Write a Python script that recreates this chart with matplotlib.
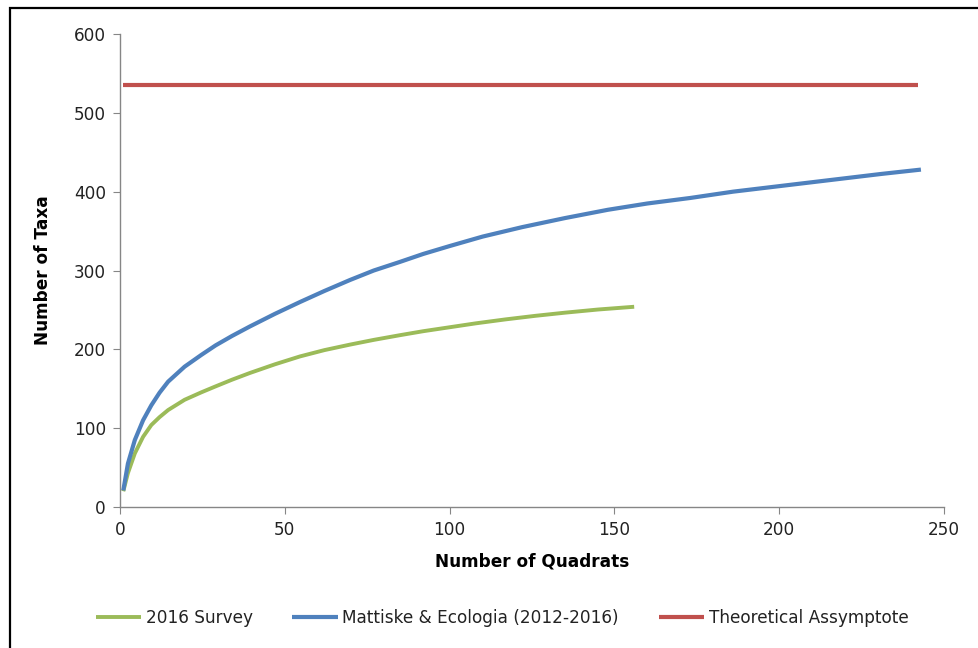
import matplotlib
matplotlib.use("Agg")
import matplotlib.pyplot as plt
from matplotlib.patches import Rectangle

# Data
survey_x = [1, 2.4, 4.5, 7, 9.5, 12, 14.6, 19.6, 24.7, 29, 34, 39.4, 47, 54.6, 62, 69.8, 77, 85, 92, 100, 108, 117, 126, 135, 145, 156]
survey_y = [20, 43, 68, 89, 104, 114, 123, 136, 145.5, 153, 161.5, 170, 181, 191, 199, 206, 212, 218, 223, 228, 233, 238, 242.5, 246.5, 250.5, 254]

mattiske_x = [1, 2.4, 4.5, 7, 9.5, 12, 14.6, 19.6, 24.7, 29, 34, 39.4, 47, 54.6, 62, 69.8, 77, 85, 92, 100, 110, 122, 135, 148, 160, 173, 186, 200, 210, 220, 231, 243]
mattiske_y = [21, 55, 85, 110, 129, 145, 159, 178, 193, 205, 217, 229, 245, 260, 274, 288, 300, 311, 321, 331, 343, 355, 366.5, 377, 385, 392, 400, 407, 412, 417, 422.5, 428]

asym_x = [1, 242]
asym_y = [535, 535]

series_labels = ["2016 Survey", "Mattiske & Ecologia (2012-2016)", "Theoretical Assymptote"]
colors = ["#9BBB59", "#4F81BD", "#C0504D"]

x_ticks = [0, 50, 100, 150, 200, 250]
y_ticks = [0, 100, 200, 300, 400, 500, 600]

plt.rcParams['font.family'] = ['DejaVu Sans']
FS = 12.2

fig = plt.figure(figsize=(9.79, 6.48), dpi=100)
ax = fig.add_axes([120/979, 141/648, (944-120)/979, (507-34)/648])

ax.plot(survey_x, survey_y, color=colors[0], lw=2.8, label=series_labels[0],
        solid_capstyle='butt', solid_joinstyle='round')
ax.plot(mattiske_x, mattiske_y, color=colors[1], lw=3.0, label=series_labels[1],
        solid_capstyle='butt', solid_joinstyle='round')
ax.plot(asym_x, asym_y, color=colors[2], lw=3.0, label=series_labels[2], solid_capstyle='butt')

ax.set_xlim(0, 250)
ax.set_ylim(0, 600)
ax.set_xticks(x_ticks)
ax.set_yticks(y_ticks)
for s in ['top', 'right']:
    ax.spines[s].set_visible(False)
for s in ['left', 'bottom']:
    ax.spines[s].set_color('#868686')
    ax.spines[s].set_linewidth(1.0)
ax.tick_params(axis='both', direction='out', length=5, color='#868686',
               labelsize=FS, labelcolor='#222222', pad=5)

ax.set_xlabel("Number of Quadrats", fontsize=FS, fontweight='bold', labelpad=10)
ax.set_ylabel("Number of Taxa", fontsize=FS, fontweight='bold', labelpad=16)

fig.legend(loc='center', bbox_to_anchor=(502/979, 1 - 618/648), ncol=3, frameon=False,
           fontsize=FS, handlelength=2.7, handletextpad=0.25, columnspacing=2.35,
           labelcolor='#222222')

fig.patches.append(Rectangle((10/979, -0.1), 2, 640/648 + 0.1, transform=fig.transFigure,
                             fill=False, edgecolor='black', lw=1.6))

fig.savefig("out.png", dpi=100)
